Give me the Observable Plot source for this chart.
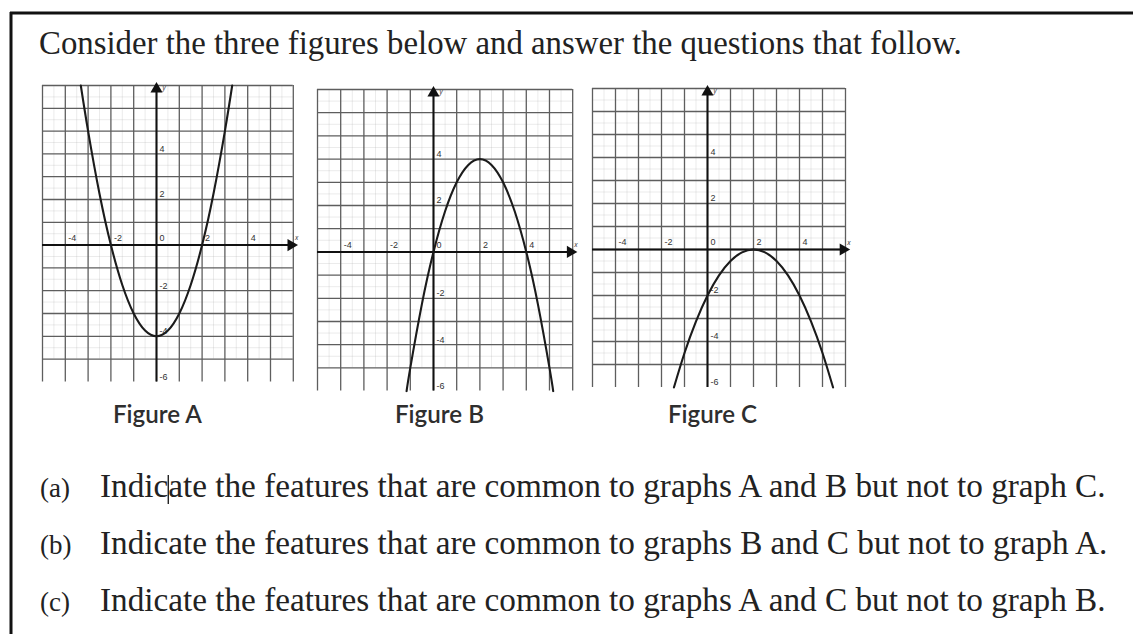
<!DOCTYPE html>
<html>
<head>
<meta charset="utf-8">
<script src="https://cdn.jsdelivr.net/npm/d3@7"></script>
<script src="https://cdn.jsdelivr.net/npm/@observablehq/plot@0.6"></script>
<style>
  html, body { margin: 0; padding: 0; background: #fff; }
  #page { position: relative; width: 1133px; height: 634px; overflow: hidden; background: #fff; }
  #page svg.fig { position: absolute; }
  #overlay { position: absolute; left: 0; top: 0; }
</style>
</head>
<body>
<div id="page"></div>
<script>
// ---------- text ----------
const titleText = "Consider the three figures below and answer the questions that follow.";
const questionLabels = ["(a)", "(b)", "(c)"];
const questionTexts = [
  "Indicate the features that are common to graphs A and B but not to graph C.",
  "Indicate the features that are common to graphs B and C but not to graph A.",
  "Indicate the features that are common to graphs A and C but not to graph B."
];
const figureNames = ["Figure A", "Figure B", "Figure C"];

// ---------- graph-paper ticks (units) ----------
const gridX = [-5, -4, -3, -2, -1, 0, 1, 2, 3, 4, 5, 6];
const gridY = [-5, -4, -3, -2, -1, 0, 1, 2, 3, 4, 5, 6, 7];
const minorX = [-4.5, -3.5, -2.5, -1.5, -0.5, 0.5, 1.5, 2.5, 3.5, 4.5, 5.5];
const minorY = [-4.5, -3.5, -2.5, -1.5, -0.5, 0.5, 1.5, 2.5, 3.5, 4.5, 5.5, 6.5];
const xTickValues = [-4, -2, 0, 2, 4];
const xTickLabels = ["-4", "-2", "0", "2", "4"];
const yTickValues = [4, 2, -2, -4, -6];
const yTickLabels = ["4", "2", "-2", "-4", "-6"];
const xDomain = [-5, 6];
const yDomain = [-6, 7];

// ---------- curves ----------
const curveAx = [-3.32, -3, -2.5, -2, -1.5, -1, -0.5, 0, 0.5, 1, 1.5, 2, 2.5, 3, 3.32];
const curveAy = [7, 5, 2.25, 0, -1.75, -3, -3.75, -4, -3.75, -3, -1.75, 0, 2.25, 5, 7];

const curveBx = [-1.16, -1, -0.5, 0, 0.5, 1, 1.5, 2, 2.5, 3, 3.5, 4, 4.5, 5, 5.16];
const curveBy = [-6, -5, -2.25, 0, 1.75, 3, 3.75, 4, 3.75, 3, 1.75, 0, -2.25, -5, -6];

const curveCx = [-1.46, -1, -0.5, 0, 0.5, 1, 1.5, 2, 2.5, 3, 3.5, 4, 4.5, 5, 5.46];
const curveCy = [-6, -4.5, -3.125, -2, -1.125, -0.5, -0.125, 0, -0.125, -0.5, -1.125, -2, -3.125, -4.5, -6];

// figure placement on the page (origin pixel, pixels per unit)
const figOriginX = [156, 432.7, 706.7];
const figOriginY = [245, 251.7, 249.3];
const figUnit = [22.8, 23.2, 23.0];

const curves = [
  [curveAx, curveAy],
  [curveBx, curveBy],
  [curveCx, curveCy]
];

const page = document.getElementById("page");
const W = 1133, H = 634;

// ---------- figures ----------
const mL = 4, mR = 8, mT = 6, mB = 6;
curves.forEach(([xs, ys], i) => {
  const u = figUnit[i];
  const width = (xDomain[1] - xDomain[0]) * u + mL + mR;
  const height = (yDomain[1] - yDomain[0]) * u + mT + mB;
  const pts = xs.map((x, k) => ({x, y: ys[k]}));
  const xTicks = xTickValues.map((v, k) => ({v, t: xTickLabels[k]}));
  const yTicks = yTickValues.map((v, k) => ({v, t: yTickLabels[k]}));
  const axisEnd = xDomain[1] - 0.1, axisTop = yDomain[1] - 0.15;
  const svg = Plot.plot({
    width, height,
    marginLeft: mL, marginRight: mR, marginTop: mT, marginBottom: mB,
    x: {domain: xDomain, axis: null},
    y: {domain: yDomain, axis: null},
    style: {background: "transparent", overflow: "visible"},
    marks: [
      Plot.ruleX(minorX, {y1: yDomain[0] + 1, y2: yDomain[1], stroke: "#aaa", strokeWidth: 0.6, strokeOpacity: 0.4}),
      Plot.ruleY(minorY, {x1: xDomain[0], x2: xDomain[1], stroke: "#aaa", strokeWidth: 0.6, strokeOpacity: 0.4}),
      Plot.ruleX(gridX, {y1: yDomain[0], y2: yDomain[1], stroke: "#5e5e5e", strokeWidth: 1.3}),
      Plot.ruleY(gridY, {x1: xDomain[0], x2: xDomain[1], stroke: "#5e5e5e", strokeWidth: 1.3}),
      Plot.ruleY([0], {x1: xDomain[0], x2: axisEnd, stroke: "#111", strokeWidth: 2}),
      Plot.ruleX([0], {y1: yDomain[0], y2: axisTop, stroke: "#111", strokeWidth: 2}),
      Plot.dot([{x: axisEnd, y: 0}], {x: "x", y: "y", symbol: "triangle", r: 4.5, fill: "#111", stroke: "none", rotate: 90}),
      Plot.dot([{x: 0, y: axisTop}], {x: "x", y: "y", symbol: "triangle", r: 4.5, fill: "#111", stroke: "none"}),
      Plot.text([{x: axisEnd, y: 0, t: "x"}], {x: "x", y: "y", text: "t", dx: 4, dy: -7, fontSize: 7, fill: "#444", fontStyle: "italic", textAnchor: "start"}),
      Plot.text([{x: 0, y: axisTop, t: "y"}], {x: "x", y: "y", text: "t", dx: 6, dy: -1, fontSize: 7, fill: "#444", fontStyle: "italic", textAnchor: "start"}),
      Plot.text(xTicks, {x: "v", y: () => 0, text: "t", dx: 3, dy: -7, fontSize: 9, fill: "#333", textAnchor: "start", fontFamily: "Liberation Sans"}),
      Plot.text(yTicks, {x: () => 0, y: "v", text: "t", dx: 3, dy: -5, fontSize: 9, fill: "#333", textAnchor: "start", fontFamily: "Liberation Sans"}),
      Plot.line(pts, {x: "x", y: "y", curve: "natural", stroke: "#1b1b1b", strokeWidth: 2.1})
    ]
  });
  svg.classList.add("fig");
  const left = figOriginX[i] - (0 - xDomain[0]) * u - mL;
  const top = figOriginY[i] - (yDomain[1] - 0) * u - mT;
  svg.style.left = left + "px";
  svg.style.top = top + "px";
  page.appendChild(svg);
});

// ---------- overlay: frame and text ----------
const overlay = d3.select(page).append("svg")
  .attr("id", "overlay").attr("width", W).attr("height", H);

overlay.append("line").attr("x1", 10).attr("x2", W).attr("y1", 13).attr("y2", 13)
  .attr("stroke", "#111").attr("stroke-width", 3);
overlay.append("line").attr("x1", 11).attr("x2", 11).attr("y1", 12).attr("y2", H)
  .attr("stroke", "#111").attr("stroke-width", 3);

function fit(sel, base, target) {
  sel.attr("font-size", base);
  const len = sel.node().getComputedTextLength();
  sel.attr("font-size", base * target / len);
  return base * target / len;
}

const serif = "'Liberation Serif', 'DejaVu Serif', serif";
const title = overlay.append("text").attr("x", 39).attr("y", 54)
  .attr("font-family", serif).attr("fill", "#222").text(titleText);
fit(title, 28, 923);

const qBase = [497, 554, 611];
let qSize = null;
let firstLine = null;
questionTexts.forEach((t, k) => {
  overlay.append("text").attr("x", 40).attr("y", qBase[k])
    .attr("font-family", serif).attr("fill", "#222").attr("font-size", 27).text(questionLabels[k]);
  const s = overlay.append("text").attr("x", 100).attr("y", qBase[k])
    .attr("font-family", serif).attr("fill", "#222").text(t);
  if (qSize == null) { qSize = fit(s, 27, 1006); firstLine = s; } else s.attr("font-size", qSize);
});

// text cursor mark visible inside "Indic|ate" on line (a)
const cursorX = 100 + firstLine.node().getSubStringLength(0, 5);
overlay.append("line").attr("x1", cursorX).attr("x2", cursorX)
  .attr("y1", qBase[0] - 22).attr("y2", qBase[0] + 7)
  .attr("stroke", "#111").attr("stroke-width", 1.3);

const figLabelX = [113, 395, 668];
figureNames.forEach((t, k) => {
  const s = overlay.append("text").attr("x", figLabelX[k]).attr("y", 423)
    .attr("font-family", "Lato, 'Open Sans', sans-serif").attr("font-weight", 600)
    .attr("fill", "#2e2e2e").text(t);
  fit(s, 18, 89);
});
</script>
</body>
</html>
